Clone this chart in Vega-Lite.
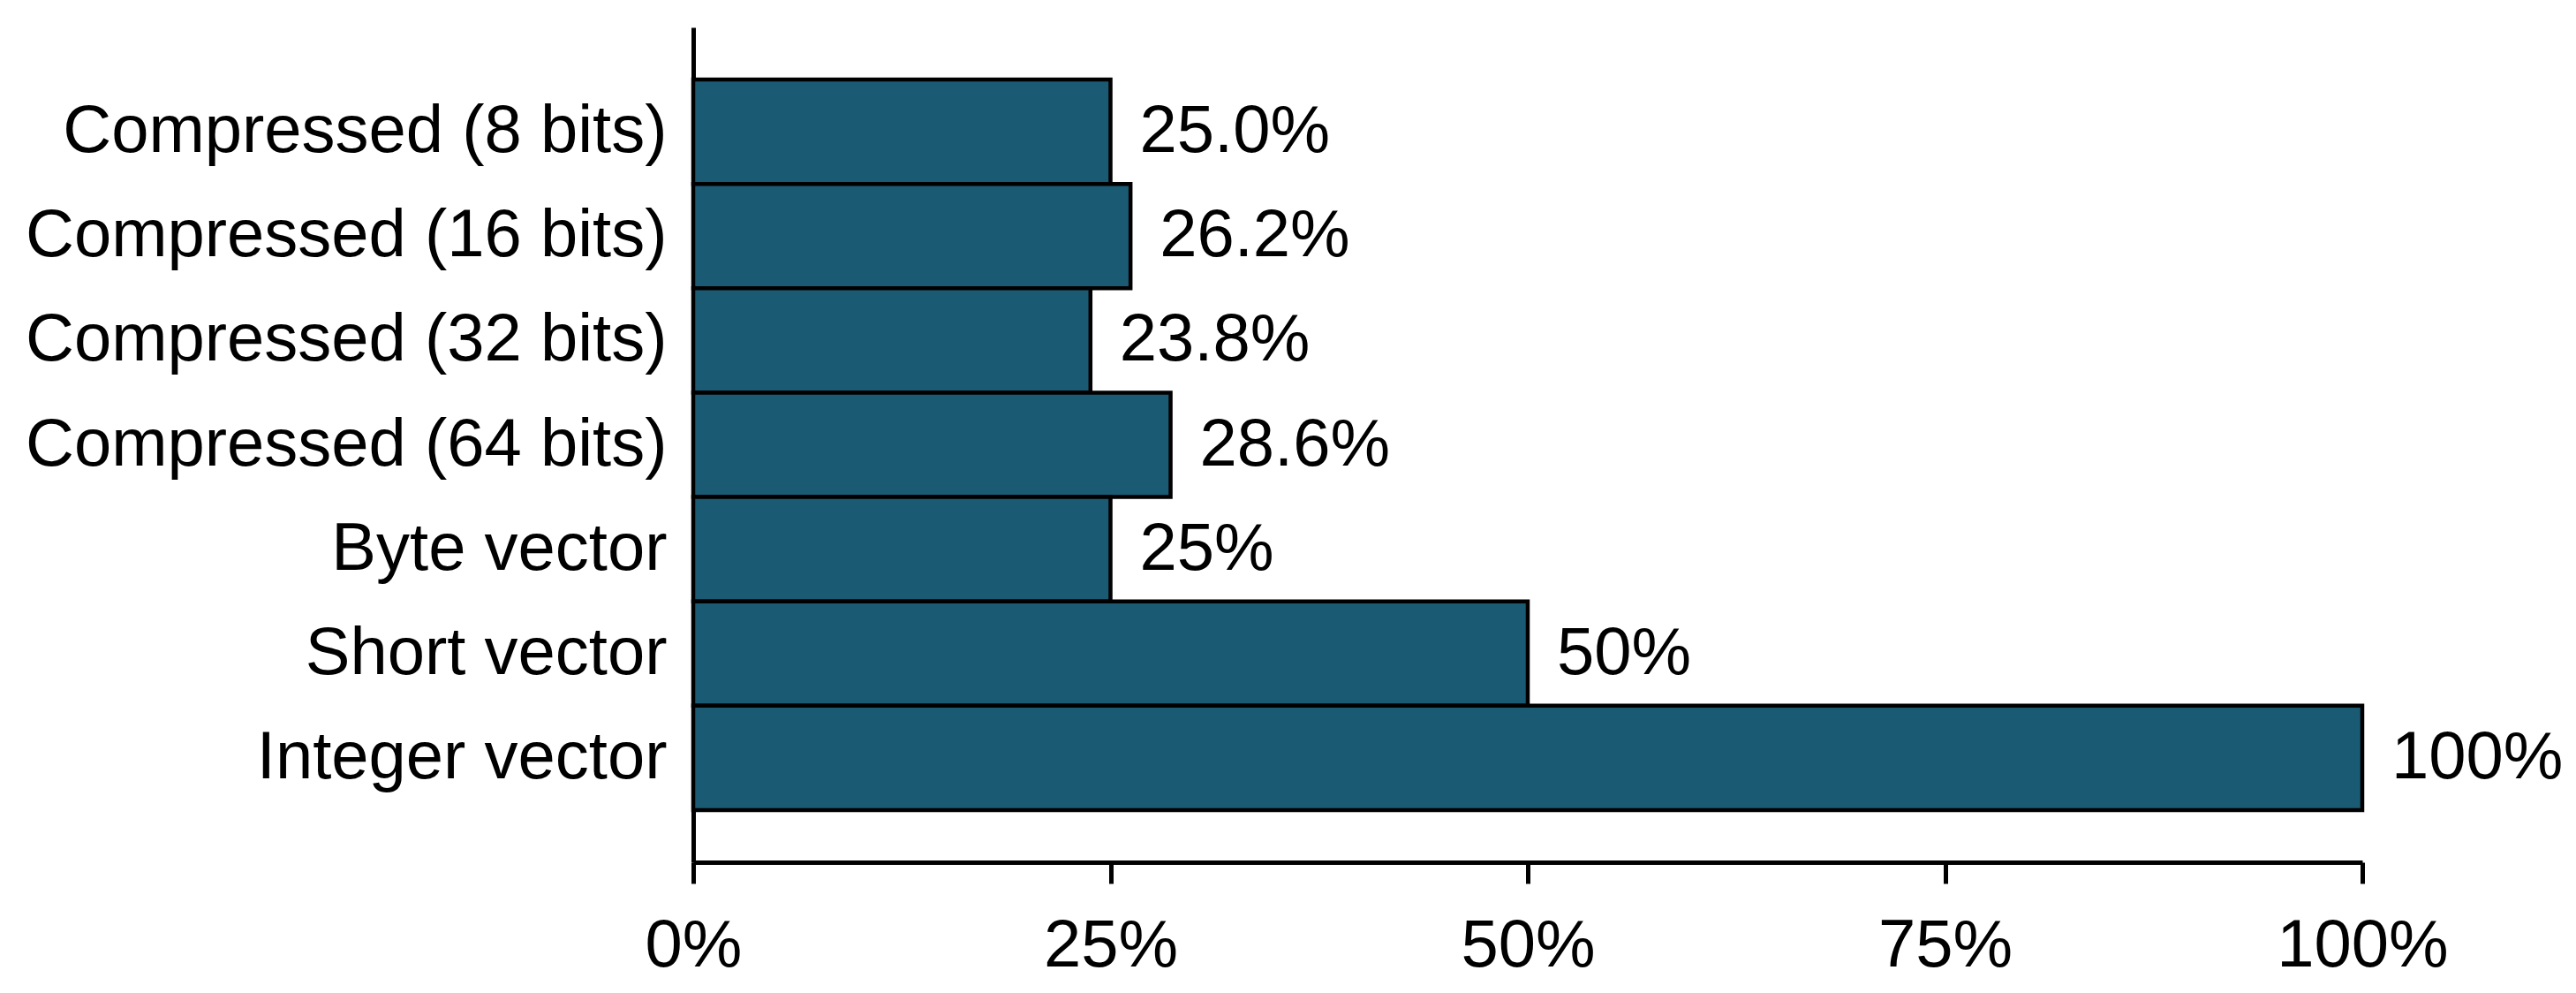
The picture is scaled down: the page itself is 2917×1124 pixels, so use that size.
{
  "$schema": "https://vega.github.io/schema/vega-lite/v6.json",
  "autosize": {"type": "none"},
  "padding": {"left": 785, "top": 31, "right": 242, "bottom": 148},
  "width": 1890,
  "height": 945,
  "background": "white",
  "config": {
    "view": {"stroke": null},
    "font": "Liberation Sans"
  },
  "data": {
    "values": [
      {"category": "Compressed (8 bits)", "value": 25.0, "label": "25.0%"},
      {"category": "Compressed (16 bits)", "value": 26.2, "label": "26.2%"},
      {"category": "Compressed (32 bits)", "value": 23.8, "label": "23.8%"},
      {"category": "Compressed (64 bits)", "value": 28.6, "label": "28.6%"},
      {"category": "Byte vector", "value": 25, "label": "25%"},
      {"category": "Short vector", "value": 50, "label": "50%"},
      {"category": "Integer vector", "value": 100, "label": "100%"}
    ]
  },
  "encoding": {
    "y": {
      "field": "category",
      "type": "nominal",
      "sort": null,
      "title": null,
      "scale": {"paddingInner": 0, "paddingOuter": 0.5},
      "axis": {
        "ticks": false,
        "domainColor": "black",
        "domainWidth": 5,
        "labelFontSize": 76,
        "labelColor": "black",
        "labelPadding": 30,
        "labelLimit": 0,
        "labelFont": "Liberation Sans",
        "grid": false
      }
    },
    "x": {
      "field": "value",
      "type": "quantitative",
      "title": null,
      "scale": {"domain": [0, 100], "nice": false},
      "axis": {
        "values": [0, 25, 50, 75, 100],
        "labelExpr": "datum.value + '%'",
        "grid": false,
        "domainColor": "black",
        "domainWidth": 5,
        "tickColor": "black",
        "tickWidth": 5,
        "tickSize": 24,
        "labelFontSize": 76,
        "labelColor": "black",
        "labelPadding": 33,
        "labelLimit": 0,
        "labelFont": "Liberation Sans",
        "labelFlush": false,
        "labelOverlap": false
      }
    }
  },
  "layer": [
    {
      "mark": {"type": "bar", "color": "#1b5a73", "stroke": "black", "strokeWidth": 4.5}
    },
    {
      "mark": {"type": "text", "align": "left", "baseline": "middle", "dx": 33, "fontSize": 76, "color": "black", "font": "Liberation Sans", "limit": 0},
      "encoding": {"text": {"field": "label"}}
    }
  ]
}
